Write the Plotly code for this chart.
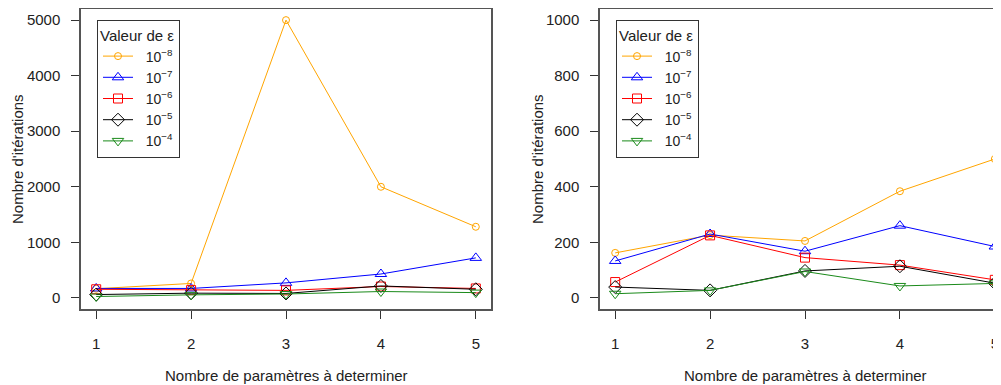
import plotly.graph_objects as go

# number of parameters to determine
params = [1, 2, 3, 4, 5]
eps_labels = ["\u00a0\u00a010<sup>−8</sup>", "\u00a0\u00a010<sup>−7</sup>",
              "\u00a0\u00a010<sup>−6</sup>", "\u00a0\u00a010<sup>−5</sup>",
              "\u00a0\u00a010<sup>−4</sup>"]

# left panel: iterations per epsilon
left_e8 = [165, 260, 5000, 2000, 1280]
left_e7 = [170, 170, 270, 430, 720]
left_e6 = [155, 140, 135, 205, 170]
left_e5 = [60, 85, 80, 215, 155]
left_e4 = [25, 55, 70, 115, 95]

# right panel
right_e8 = [162, 226, 205, 384, 500]
right_e7 = [133, 230, 168, 260, 185]
right_e6 = [57, 225, 145, 118, 65]
right_e5 = [39, 27, 97, 114, 53]
right_e4 = [15, 27, 95, 43, 52]

colors = ["orange", "blue", "red", "black", "#1a8a1a"]
symbols = ["circle-open", "triangle-up-open", "square-open",
           "diamond-open", "triangle-down-open"]
sizes = [7, 10, 9, 10, 10]

# the page body has an 8px margin, so the figure is shifted by that much
OFF = 8
W, H = 1001 - OFF, 385 - OFF
FONT = "Liberation Sans, Arial, sans-serif"


def px_x(v):
    return (v - OFF) / W


def px_y(v):
    return 1 - (v - OFF) / H


fig = go.Figure()

left = [left_e8, left_e7, left_e6, left_e5, left_e4]
right = [right_e8, right_e7, right_e6, right_e5, right_e4]

for i in range(5):
    fig.add_trace(go.Scatter(x=params, y=left[i], mode="lines+markers",
                             name=eps_labels[i], legend="legend",
                             line=dict(color=colors[i], width=1),
                             marker=dict(symbol=symbols[i], size=sizes[i],
                                         color=colors[i], line=dict(width=1)),
                             xaxis="x", yaxis="y"))
for i in range(5):
    fig.add_trace(go.Scatter(x=params, y=right[i], mode="lines+markers",
                             name=eps_labels[i], legend="legend2",
                             line=dict(color=colors[i], width=1),
                             marker=dict(symbol=symbols[i], size=sizes[i],
                                         color=colors[i], line=dict(width=1)),
                             xaxis="x2", yaxis="y2"))

ydom = [px_y(309), px_y(9)]
px_per_unit = 410 / 4.32

axis_common = dict(showgrid=False, zeroline=False, showline=True,
                   linecolor="#555", linewidth=1.5, ticks="outside",
                   ticklen=8, tickcolor="#333", tickwidth=1,
                   tickfont=dict(size=15, color="#222", family=FONT))

legend_common = dict(y=px_y(20), xanchor="left", yanchor="top",
                     bgcolor="white", bordercolor="#333", borderwidth=1,
                     title=dict(text="Valeur de ε", font=dict(size=15)),
                     font=dict(size=14), itemwidth=30, tracegroupgap=0)

fig.update_layout(
    width=W, height=H,
    margin=dict(l=0, r=0, t=0, b=0),
    paper_bgcolor="white", plot_bgcolor="white",
    font=dict(family=FONT, size=15, color="#222"),
    xaxis=dict(domain=[px_x(81), px_x(491)], range=[0.84, 5.16],
               tickvals=params, mirror=True, anchor="y",
               ticklabelstandoff=12, **axis_common),
    yaxis=dict(domain=ydom, range=[-200, 5200], tickvals=[0, 1000, 2000, 3000, 4000, 5000],
               mirror=True, anchor="x", ticklabelstandoff=8, **axis_common),
    xaxis2=dict(domain=[px_x(600), 1.0], range=[0.84, 0.84 + 401 / px_per_unit],
                tickvals=params, mirror=True, anchor="y2",
                ticklabelstandoff=12, **axis_common),
    yaxis2=dict(domain=ydom, range=[-40, 1040], tickvals=[0, 200, 400, 600, 800, 1000],
                mirror=False, anchor="x2", ticklabelstandoff=8, **axis_common),
    legend=dict(x=px_x(97), **legend_common),
    legend2=dict(x=px_x(616), **legend_common),
    showlegend=True,
)

titles = [
    dict(x=px_x(286), y=px_y(375), text="Nombre de paramètres à determiner", textangle=0),
    dict(x=px_x(805), y=px_y(375), text="Nombre de paramètres à determiner", textangle=0),
    dict(x=px_x(17), y=px_y(159), text="Nombre d'itérations", textangle=-90),
    dict(x=px_x(537), y=px_y(159), text="Nombre d'itérations", textangle=-90),
]
for t in titles:
    fig.add_annotation(xref="paper", yref="paper", x=t["x"], y=t["y"],
                       text=t["text"], textangle=t["textangle"],
                       showarrow=False, xanchor="center", yanchor="middle",
                       font=dict(size=15, color="#222", family=FONT))

fig.write_html("out.html")
